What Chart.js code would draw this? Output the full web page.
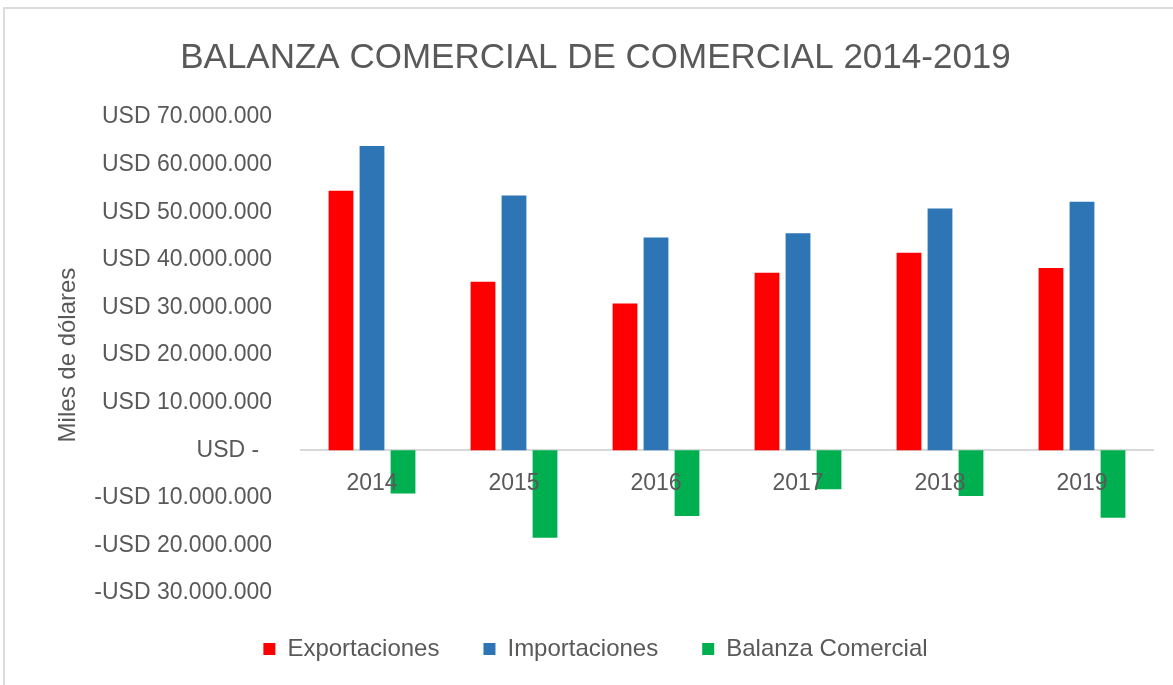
<!DOCTYPE html>
<html>
<head>
<meta charset="utf-8">
<script src="https://cdn.jsdelivr.net/npm/chart.js@4"></script>
<style>
  html, body { margin: 0; padding: 0; background: #fff; }
  #wrap { position: relative; width: 1173px; height: 685px; }
  #frame { position: absolute; left: 3px; top: 7px; right: 0; bottom: 0; border-top: 2px solid #dcdcdc; border-left: 2px solid #dcdcdc; pointer-events: none; }
</style>
</head>
<body>
<div id="wrap">
  <canvas id="balanzaChart"></canvas>
  <div id="frame"></div>
</div>
<script>
const years = ['2014', '2015', '2016', '2017', '2018', '2019'];
const exportaciones = [54500000, 35400000, 30800000, 37300000, 41500000, 38300000];
const importaciones = [63900000, 53500000, 44700000, 45600000, 50800000, 52200000];
const balanza = [-9100000, -18400000, -13800000, -8200000, -9600000, -14200000];
const yMin = -30000000, yMax = 70000000, yStep = 10000000;

const gris = '#595959';
const fuente = "'Liberation Sans', Arial, sans-serif";

function usd(v) {
    if (v === 0) return 'USD -\u00a0\u00a0';
    const s = Math.abs(v).toFixed(0).replace(/\B(?=(\d{3})+(?!\d))/g, '.');
    return (v < 0 ? '-USD ' : 'USD ') + s;
}

const ctx = document.getElementById('balanzaChart').getContext('2d');
const chart = new Chart(ctx, {
    type: 'bar',
    data: {
        labels: years,
        datasets: [
            { label: 'Exportaciones', data: exportaciones, backgroundColor: '#ff0000', borderWidth: 0 },
            { label: 'Importaciones', data: importaciones, backgroundColor: '#2e75b6', borderWidth: 0 },
            { label: 'Balanza Comercial', data: balanza, backgroundColor: '#00b050', borderWidth: 0 }
        ]
    },
    options: {
        responsive: true,
        maintainAspectRatio: false,
        animation: false,
        devicePixelRatio: 1,
        categoryPercentage: 0.655,
        barPercentage: 0.8,
        layout: { padding: { left: 38, right: 20, top: 0, bottom: 14 } },
        scales: {
            x: {
                position: { y: 0 },
                grid: { display: false, drawTicks: false },
                border: { display: true, color: '#d9d9d9', width: 2 },
                ticks: { z: 1, color: gris, font: { family: fuente, size: 23 }, padding: 20 }
            },
            y: {
                min: yMin, max: yMax,
                grid: { display: false, drawTicks: false },
                border: { display: false },
                ticks: { stepSize: yStep, color: gris, font: { family: fuente, size: 23 }, padding: 29, callback: v => usd(v) },
                title: { display: true, text: 'Miles de dólares', color: gris, font: { family: fuente, size: 24, weight: 'normal' }, padding: { top: 16, bottom: 0 } },
                afterFit: s => { s.width = 263; }
            }
        },
        plugins: {
            title: {
                display: true,
                text: 'BALANZA COMERCIAL DE COMERCIAL 2014-2019',
                color: gris,
                font: { family: fuente, size: 35, weight: 'normal' },
                padding: { top: 37.5, bottom: 37.5 }
            },
            legend: {
                position: 'bottom',
                labels: { boxWidth: 12, boxHeight: 12, padding: 44, color: gris, font: { family: fuente, size: 24 } }
            },
            tooltip: { enabled: false }
        }
    }
});
</script>
</body>
</html>
